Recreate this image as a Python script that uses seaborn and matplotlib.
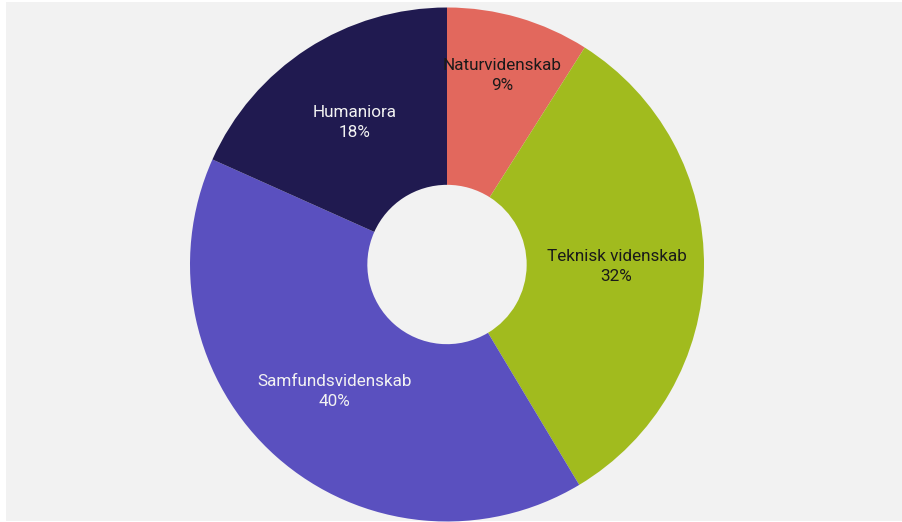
import numpy as np
import matplotlib
matplotlib.use("Agg")
import matplotlib.pyplot as plt
import seaborn as sns

# Data (share of total, %)
categories = ["Naturvidenskab", "Teknisk videnskab", "Samfundsvidenskab", "Humaniora"]
shares = [9.0, 32.4, 40.3, 18.3]
pct_labels = ["9%", "32%", "40%", "18%"]

colors = ["#e2685d", "#a1bb1e", "#5a50bf", "#201a50"]
text_colors = ["#1a1a1a", "#1a1a1a", "#f2f2f2", "#f2f2f2"]
label_dist = [0.765, 0.66, 0.66, 0.66]

sns.set_theme(style="white")
plt.rcParams['font.family'] = ['Roboto', 'DejaVu Sans']

W, H = 902, 522
fig = plt.figure(figsize=(W / 100, H / 100), dpi=100, facecolor="white")

# grey panel behind the chart
bg = plt.Rectangle((6 / W, 1 / H), (W - 6) / W, (H - 3) / H,
                   transform=fig.transFigure, facecolor="#f2f2f2",
                   edgecolor="none", zorder=-10)
fig.patches.append(bg)

r_px = 257
cx, cy = 447, H - 264.5
ax = fig.add_axes([(cx - r_px) / W, (cy - r_px) / H, 2 * r_px / W, 2 * r_px / H])
ax.set_facecolor("none")
ax.set_zorder(5)

wedges, _ = ax.pie(shares, colors=colors, startangle=90, counterclock=False,
                   radius=1.0, wedgeprops=dict(width=1 - 0.31, edgecolor="none"))

for w, name, pct, tc, d in zip(wedges, categories, pct_labels, text_colors, label_dist):
    ang = np.deg2rad((w.theta1 + w.theta2) / 2)
    x, y = d * np.cos(ang), d * np.sin(ang)
    ax.text(x, y, f"{name}\n{pct}", ha="center", va="center", color=tc,
            fontsize=12.3, linespacing=1.42)

ax.set_xlim(-1, 1)
ax.set_ylim(-1, 1)
ax.set_aspect("equal")
ax.axis("off")

fig.savefig("out.png", dpi=100, facecolor="white")
